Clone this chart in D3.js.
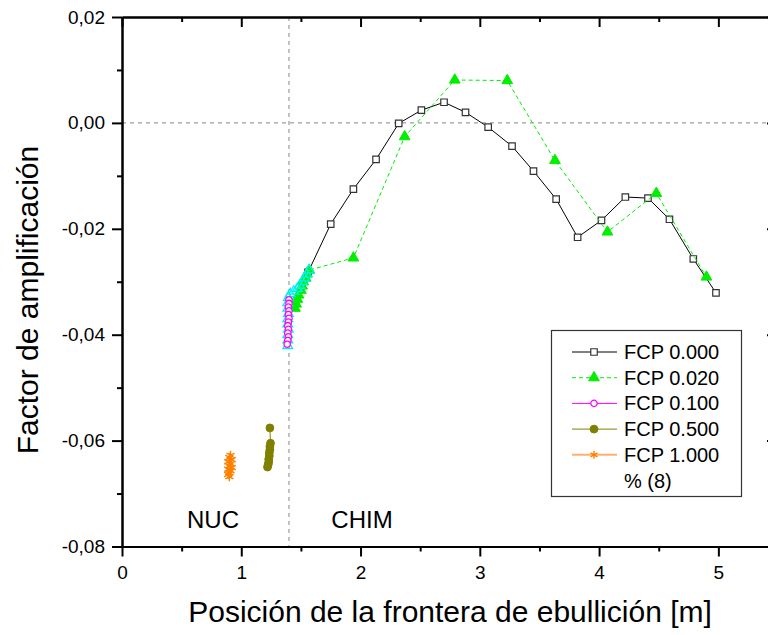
<!DOCTYPE html>
<html><head><meta charset="utf-8">
<script src="https://cdn.jsdelivr.net/npm/d3@7"></script>
<style>body{margin:0;background:#fff;}svg{display:block;font-family:"Liberation Sans",Arial,sans-serif;}</style>
</head><body>
<script>
// ---- data ----
const xMajorTicks = [0, 1, 2, 3, 4, 5];
const yMajorTicks = [0.02, 0, -0.02, -0.04, -0.06, -0.08];
const seriesNames = ["FCP 0.000", "FCP 0.020", "FCP 0.100", "FCP 0.500", "FCP 1.000"];
const legendExtra = "% (8)";
const regionLabels = ["NUC", "CHIM"];
const boundaryX = 1.4;

const fcp000X = [1.56,1.75,1.94,2.13,2.32,2.51,2.70,2.88,3.07,3.27,3.45,3.64,3.82,4.02,4.22,4.41,4.59,4.79,4.98];
const fcp000Y = [-0.0282,-0.0191,-0.0125,-0.0069,-0.0001,0.0024,0.0039,0.0020,-0.0008,-0.0044,-0.0091,-0.0144,-0.0216,-0.0184,-0.0140,-0.0142,-0.0182,-0.0257,-0.0321];

const fcp020X = [1.45,1.46,1.47,1.48,1.50,1.51,1.52,1.54,1.55,1.57,1.94,2.37,2.79,3.23,3.63,4.07,4.48,4.90];
const fcp020Y = [-0.0350,-0.0342,-0.0333,-0.0325,-0.0316,-0.0308,-0.0300,-0.0293,-0.0285,-0.0278,-0.0255,-0.0026,0.0081,0.0080,-0.0071,-0.0206,-0.0133,-0.0291];

const fcp100X = [1.40,1.40,1.395,1.40,1.395,1.40,1.395,1.39,1.395,1.39,1.395,1.39,1.385];
const fcp100Y = [-0.0334,-0.0341,-0.0348,-0.0355,-0.0362,-0.0369,-0.0376,-0.0383,-0.0390,-0.0397,-0.0404,-0.0411,-0.0418];

const fcp500X = [1.24,1.245,1.24,1.24,1.235,1.235,1.23,1.23,1.225,1.22];
const fcp500Y = [-0.0576,-0.0605,-0.0611,-0.0617,-0.0623,-0.0629,-0.0635,-0.0641,-0.0646,-0.0650];

const fcp1000X = [0.91,0.90,0.92,0.89,0.91,0.90,0.92,0.89,0.91,0.90,0.89,0.90];
const fcp1000Y = [-0.0628,-0.0632,-0.0636,-0.0640,-0.0644,-0.0648,-0.0651,-0.0654,-0.0657,-0.0661,-0.0664,-0.0668];

const pct8X = [1.57,1.55,1.53,1.51,1.49,1.47,1.44,1.41,1.395,1.39,1.39,1.395,1.39,1.39,1.395,1.39,1.39,1.39];
const pct8Y = [-0.0278,-0.0286,-0.0293,-0.0300,-0.0307,-0.0313,-0.0318,-0.0323,-0.0330,-0.0340,-0.0350,-0.0360,-0.0370,-0.0380,-0.0390,-0.0400,-0.0410,-0.0421];

// ---- chart ----
const W = 768, H = 635;
const FONT = '"Liberation Sans",Arial,sans-serif';
const svg = d3.select("body").append("svg").attr("width", W).attr("height", H);
const x = d3.scaleLinear().domain([0, 5.5]).range([122, 778]);
const y = d3.scaleLinear().domain([-0.08, 0.02]).range([546.5, 17]);
const fmtY = d => (d < 0 ? "-" : "") + Math.abs(d).toFixed(2).replace(".", ",");

// reference lines
svg.append("line").attr("x1", x(boundaryX)).attr("x2", x(boundaryX)).attr("y1", y(0.02)).attr("y2", y(-0.08))
  .attr("stroke", "#888").attr("stroke-dasharray", "4,4");
svg.append("line").attr("x1", x(0)).attr("x2", x(5.5)).attr("y1", y(0)).attr("y2", y(0))
  .attr("stroke", "#888").attr("stroke-dasharray", "4,4");

// axes
function styleAxis(g) {
  g.select(".domain").attr("stroke", "#000").attr("stroke-width", 2);
  g.selectAll(".tick line").attr("stroke", "#000").attr("stroke-width", 2);
  g.selectAll("text").attr("fill", "#000").attr("font-size", 19).attr("font-family", FONT);
}
const xMinor = d3.range(0.5, 5.5, 1);
const yMinor = [0.01, -0.01, -0.03, -0.05, -0.07];

svg.append("g").attr("transform", `translate(0,${y(-0.08)})`)
  .call(d3.axisBottom(x).tickValues(xMinor).tickSize(5).tickSizeOuter(0).tickFormat(""))
  .call(styleAxis);
svg.append("g").attr("transform", `translate(0,${y(-0.08)})`)
  .call(d3.axisBottom(x).tickValues(xMajorTicks).tickSize(10).tickSizeOuter(0).tickPadding(9).tickFormat(d3.format("d")))
  .call(styleAxis);
svg.append("g").attr("transform", `translate(${x(0)},0)`)
  .call(d3.axisLeft(y).tickValues(yMinor).tickSize(5).tickSizeOuter(0).tickFormat(""))
  .call(styleAxis);
svg.append("g").attr("transform", `translate(${x(0)},0)`)
  .call(d3.axisLeft(y).tickValues(yMajorTicks).tickSize(10).tickSizeOuter(0).tickPadding(7).tickFormat(fmtY))
  .call(styleAxis);
// top axis (inward ticks)
svg.append("g").attr("transform", `translate(0,${y(0.02)})`)
  .call(d3.axisBottom(x).tickValues(xMinor).tickSize(5).tickSizeOuter(0).tickFormat(""))
  .call(styleAxis);
svg.append("g").attr("transform", `translate(0,${y(0.02)})`)
  .call(d3.axisBottom(x).tickValues(xMajorTicks).tickSize(10).tickSizeOuter(0).tickFormat(""))
  .call(styleAxis);
// right axis (inward ticks)
svg.append("g").attr("transform", `translate(${x(5.5)},0)`)
  .call(d3.axisLeft(y).tickValues(yMajorTicks).tickSize(11).tickSizeOuter(0).tickFormat(""))
  .call(styleAxis);

// series
const zip = (xs, ys) => xs.map((v, i) => [v, ys[i]]);
const line = d3.line().x(d => x(d[0])).y(d => y(d[1]));
const sym = (type, size) => d3.symbol().type(type).size(size);

function drawSeries(data, opt) {
  const g = svg.append("g");
  if (opt.lineColor) {
    g.append("path").datum(data).attr("d", line).attr("fill", "none")
      .attr("stroke", opt.lineColor).attr("stroke-width", opt.lineWidth || 1)
      .attr("stroke-dasharray", opt.dash || null);
  }
  g.selectAll("path.m").data(data).join("path").attr("class", "m")
    .attr("transform", d => `translate(${x(d[0])},${y(d[1])})`)
    .attr("d", sym(opt.shape, opt.size)())
    .attr("fill", opt.fill).attr("stroke", opt.stroke).attr("stroke-width", opt.sw || 1);
}

const styles = [
  {lineColor: "#000", shape: d3.symbolSquare, size: 42, fill: "#fff", stroke: "#333", sw: 1.2},
  {lineColor: "#00ee00", dash: "4,3", shape: d3.symbolTriangle, size: 50, fill: "#00ee00", stroke: "#00ee00"},
  {lineColor: "#ff00ff", shape: d3.symbolCircle, size: 32, fill: "#fff", stroke: "#ff00ff", sw: 1.3},
  {lineColor: "#808000", shape: d3.symbolCircle, size: 48, fill: "#808000", stroke: "#808000"},
  {lineColor: "#ff8000", shape: d3.symbolAsterisk, size: 60, fill: "none", stroke: "#ff8000", sw: 1.4}
];

drawSeries(zip(fcp000X, fcp000Y), styles[0]);
drawSeries(zip(fcp020X, fcp020Y), styles[1]);
drawSeries(zip(pct8X, pct8Y), {lineColor: "#00ffff", shape: d3.symbolTriangle, size: 40, fill: "none", stroke: "#00f0f0", sw: 1.3});
drawSeries(zip(fcp100X, fcp100Y), styles[2]);
drawSeries(zip(fcp500X, fcp500Y), styles[3]);
drawSeries(zip(fcp1000X, fcp1000Y), styles[4]);

// region labels
svg.append("text").attr("x", 213).attr("y", 528).attr("text-anchor", "middle").attr("font-size", 24).text(regionLabels[0]);
svg.append("text").attr("x", 362).attr("y", 528).attr("text-anchor", "middle").attr("font-size", 24).text(regionLabels[1]);

// legend
const lg = svg.append("g");
lg.append("rect").attr("x", 551.5).attr("y", 330.5).attr("width", 190).attr("height", 166)
  .attr("fill", "#fff").attr("stroke", "#333").attr("stroke-width", 1.2);
const rowY = i => 352 + i * 25.7;
seriesNames.forEach((name, i) => {
  const s = styles[i];
  const ly = rowY(i);
  lg.append("line").attr("x1", 572).attr("x2", 617).attr("y1", ly).attr("y2", ly)
    .attr("stroke", i === 4 ? "#ffb070" : s.lineColor).attr("stroke-width", i === 4 ? 2 : 1)
    .attr("stroke-dasharray", s.dash || null);
  lg.append("path").attr("transform", `translate(594,${ly})`).attr("d", sym(s.shape, i === 4 ? 45 : s.size)())
    .attr("fill", s.fill).attr("stroke", s.stroke).attr("stroke-width", s.sw || 1);
  lg.append("text").attr("x", 624).attr("y", ly + 7).attr("font-size", 20).text(name);
});
lg.append("text").attr("x", 624).attr("y", rowY(5) + 7).attr("font-size", 20).text(legendExtra);

// axis titles
svg.append("text").attr("x", 450).attr("y", 622).attr("text-anchor", "middle").attr("font-size", 30)
  .text("Posición de la frontera de ebullición [m]");
svg.append("text").attr("transform", "translate(38,300) rotate(-90)").attr("text-anchor", "middle").attr("font-size", 30)
  .text("Factor de amplificación");
</script>
</body></html>
